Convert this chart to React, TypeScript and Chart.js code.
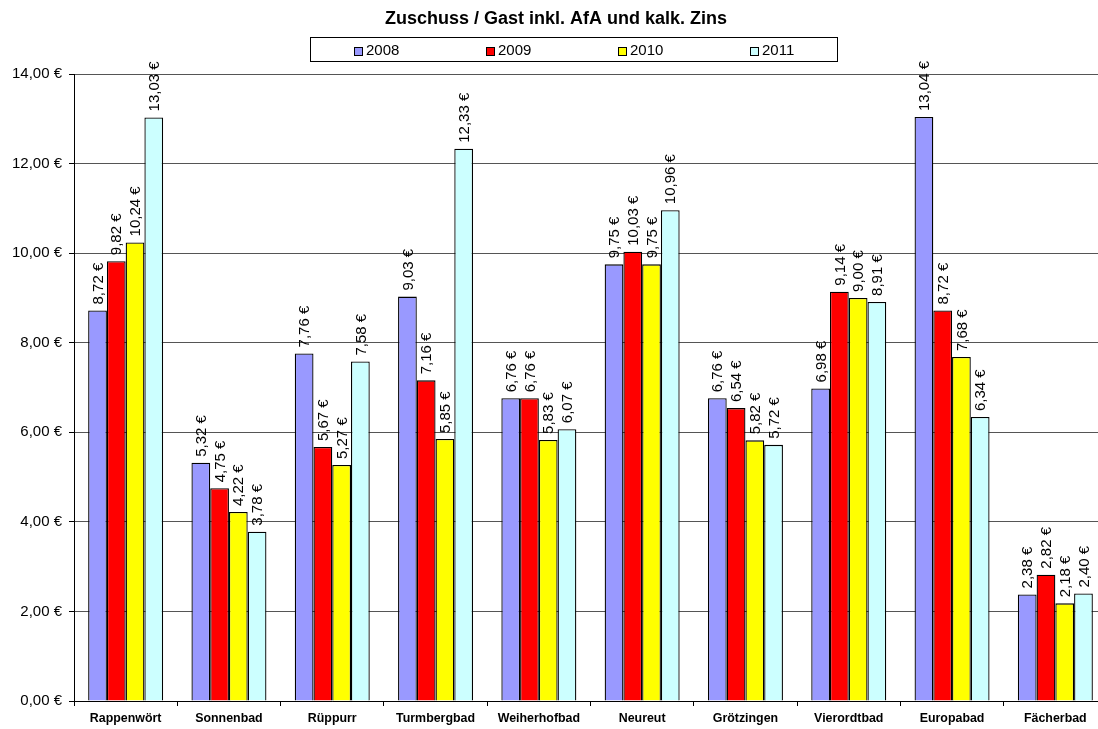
import React, { useEffect, useRef } from "react";
import { Chart, registerables } from "chart.js";

Chart.register(...registerables);

const categories = [
  "Rappenwört",
  "Sonnenbad",
  "Rüppurr",
  "Turmbergbad",
  "Weiherhofbad",
  "Neureut",
  "Grötzingen",
  "Vierordtbad",
  "Europabad",
  "Fächerbad",
];

const seriesLabels = ["2008", "2009", "2010", "2011"];
const seriesColors = ["#9999FF", "#FF0000", "#FFFF00", "#CCFFFF"];

const values2008 = [8.72, 5.32, 7.76, 9.03, 6.76, 9.75, 6.76, 6.98, 13.04, 2.38];
const values2009 = [9.82, 4.75, 5.67, 7.16, 6.76, 10.03, 6.54, 9.14, 8.72, 2.82];
const values2010 = [10.24, 4.22, 5.27, 5.85, 5.83, 9.75, 5.82, 9.0, 7.68, 2.18];
const values2011 = [13.03, 3.78, 7.58, 12.33, 6.07, 10.96, 5.72, 8.91, 6.34, 2.4];

const yTicks = [0, 2, 4, 6, 8, 10, 12, 14];
const titleText = "Zuschuss / Gast inkl. AfA und kalk. Zins";

const FONT = "'Liberation Sans', Arial, sans-serif";
const fmt = (v: number) => v.toFixed(2).replace(".", ",") + " €";

const customPlugin = {
  id: "customDecor",
  afterDatasetsDraw(chart: any) {
    const ctx = chart.ctx;
    ctx.save();
    ctx.font = `15px ${FONT}`;
    ctx.fillStyle = "#000";
    chart.data.datasets.forEach((ds: any, di: number) => {
      const meta = chart.getDatasetMeta(di);
      meta.data.forEach((el: any, i: number) => {
        const v = ds.data[i];
        ctx.save();
        ctx.translate(el.x + 1, el.y - 6);
        ctx.rotate(-Math.PI / 2);
        ctx.textAlign = "left";
        ctx.textBaseline = "middle";
        ctx.fillText(fmt(v), 0, 0);
        ctx.restore();
      });
    });
    ctx.restore();
  },
  afterDraw(chart: any) {
    const ctx = chart.ctx;
    ctx.save();
    // title
    ctx.font = `bold 18px ${FONT}`;
    ctx.fillStyle = "#000";
    ctx.textAlign = "center";
    ctx.textBaseline = "middle";
    ctx.fillText(titleText, 556, 19);
    // legend box
    ctx.strokeStyle = "#000";
    ctx.lineWidth = 1;
    ctx.strokeRect(310.5, 37.5, 527, 24);
    ctx.font = `15px ${FONT}`;
    ctx.textAlign = "left";
    chart.data.datasets.forEach((ds: any, i: number) => {
      const x = 354 + i * 132;
      ctx.fillStyle = ds.backgroundColor;
      ctx.fillRect(x, 47, 8, 8);
      ctx.strokeStyle = "#000";
      ctx.strokeRect(x + 0.5, 47.5, 8, 8);
      ctx.fillStyle = "#000";
      ctx.fillText(ds.label, x + 12, 51);
    });
    ctx.restore();
  },
};

export default function App() {
  const ref = useRef<HTMLCanvasElement | null>(null);

  useEffect(() => {
    if (!ref.current) return;
    const allValues = [values2008, values2009, values2010, values2011];
    const chart = new Chart(ref.current, {
      type: "bar",
      data: {
        labels: categories,
        datasets: seriesLabels.map((label, i) => ({
          label,
          data: allValues[i],
          backgroundColor: seriesColors[i],
          borderColor: "#000",
          borderWidth: 1.3,
          categoryPercentage: 0.726,
          barPercentage: 1,
        })),
      },
      options: {
        responsive: false,
        animation: false,
        devicePixelRatio: 1,
        layout: { padding: { top: 74, left: 0, right: 0, bottom: 0 } },
        plugins: {
          legend: { display: false },
          title: { display: false },
          tooltip: { enabled: false },
        },
        scales: {
          x: {
            offset: true,
            grid: {
              offset: true,
              drawOnChartArea: false,
              drawTicks: true,
              tickLength: 5,
              tickColor: "#000",
              color: "#000",
            },
            border: { color: "#000", width: 1 },
            ticks: {
              color: "#000",
              font: { family: FONT, size: 12.4, weight: "bold" },
              padding: 5,
              maxRotation: 0,
              autoSkip: false,
            },
            afterFit(scale: any) {
              scale.height = 28;
            },
          },
          y: {
            min: 0,
            max: 14,
            afterBuildTicks(scale: any) {
              scale.ticks = yTicks.map((v) => ({ value: v }));
            },
            grid: {
              color: "#555",
              tickLength: 5,
              tickColor: "#000",
            },
            border: { color: "#000", width: 1 },
            ticks: {
              color: "#000",
              font: { family: FONT, size: 15 },
              padding: 7,
              callback: (v: any) => fmt(Number(v)),
            },
            afterFit(scale: any) {
              scale.width = 74;
            },
          },
        },
      },
      plugins: [customPlugin],
    });
    return () => chart.destroy();
  }, []);

  return (
    <div
      style={{
        position: "fixed",
        left: 0,
        top: 0,
        width: 1098,
        height: 729,
        overflow: "hidden",
        background: "#fff",
      }}
    >
      <canvas ref={ref} width={1107} height={729} style={{ display: "block", width: 1107, height: 729 }} />
    </div>
  );
}
